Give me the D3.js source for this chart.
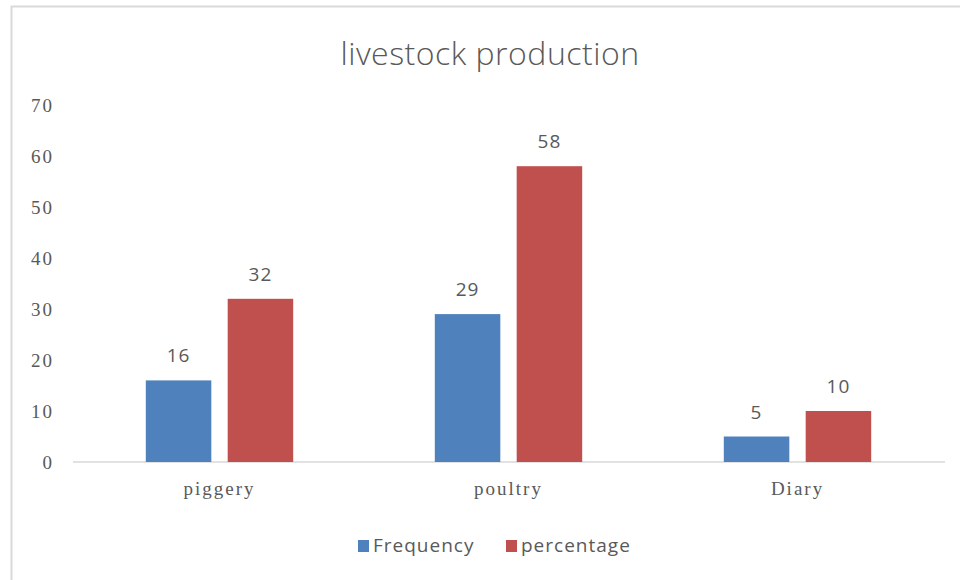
<!DOCTYPE html>
<html>
<head>
<meta charset="utf-8">
<script src="https://cdn.jsdelivr.net/npm/d3@7"></script>
<style>
  html, body { margin: 0; padding: 0; background: #ffffff; }
  svg { display: block; }
</style>
</head>
<body>
<svg id="chart" width="960" height="580"></svg>
<script>
// Livestock production: frequency and percentage per category
const categories = ["piggery", "poultry", "Diary"];
const seriesNames = ["Frequency", "percentage"];
const frequency = [16, 29, 5];
const percentage = [32, 58, 10];
const yTicks = [0, 10, 20, 30, 40, 50, 60, 70];
const title = "livestock production";

const colors = ["#4f81bd", "#c0504d"];
const textColor = "#595959";
const sansFont = "'Open Sans', 'Noto Sans', sans-serif";
const serifFont = "'Liberation Serif', 'DejaVu Serif', serif";

const svg = d3.select("#chart");

// outer frame
svg.append("rect")
  .attr("x", 11.5).attr("y", 6.5)
  .attr("width", 980).attr("height", 600)
  .attr("fill", "#ffffff")
  .attr("stroke", "#d9d9d9")
  .attr("stroke-width", 2);

const x0 = d3.scaleBand()
  .domain(categories)
  .range([75, 942])
  .paddingInner(0.49)
  .paddingOuter(0.245);

const x1 = d3.scaleBand()
  .domain(seriesNames)
  .range([0, x0.bandwidth()])
  .paddingInner(0.2)
  .paddingOuter(0);

const y = d3.scaleLinear().domain([0, 70]).range([462, 105]);

// title
svg.append("text")
  .attr("x", 490).attr("y", 65)
  .attr("text-anchor", "middle")
  .attr("font-family", sansFont)
  .attr("font-weight", 300)
  .attr("font-size", 32)
  .attr("letter-spacing", 0.5)
  .attr("fill", textColor)
  .text(title);

// y axis labels
const yAxis = d3.axisLeft(y).tickValues(yTicks).tickSize(0).tickPadding(0);
const gy = svg.append("g").attr("transform", "translate(54,0)").call(yAxis);
gy.select(".domain").remove();
gy.selectAll("text")
  .attr("font-family", serifFont)
  .attr("font-size", 19)
  .attr("letter-spacing", 2)
  .attr("fill", textColor);

// x axis baseline and category labels
const xAxis = d3.axisBottom(x0).tickSize(0).tickPadding(0);
const gx = svg.append("g").attr("transform", "translate(0,462)").call(xAxis);
gx.select(".domain").attr("d", "M73,0H945").attr("stroke", "#d9d9d9").attr("stroke-width", 1.5);
gx.selectAll("text")
  .attr("dy", "1.75em")
  .attr("font-family", serifFont)
  .attr("font-size", 19)
  .attr("letter-spacing", 2)
  .attr("fill", textColor);

// bars
const rows = categories.map((c, i) => ({
  category: c,
  values: [
    { name: seriesNames[0], value: frequency[i], color: colors[0] },
    { name: seriesNames[1], value: percentage[i], color: colors[1] }
  ]
}));

const groups = svg.append("g").selectAll("g")
  .data(rows).join("g")
  .attr("transform", d => `translate(${x0(d.category)},0)`);

groups.selectAll("rect")
  .data(d => d.values).join("rect")
  .attr("x", d => x1(d.name))
  .attr("y", d => y(d.value))
  .attr("width", x1.bandwidth())
  .attr("height", d => y(0) - y(d.value))
  .attr("fill", d => d.color);

groups.selectAll("text")
  .data(d => d.values).join("text")
  .attr("x", d => x1(d.name) + x1.bandwidth() / 2)
  .attr("y", d => y(d.value) - 18)
  .attr("text-anchor", "middle")
  .attr("font-family", sansFont)
  .attr("font-size", 19)
  .attr("letter-spacing", 1)
  .attr("fill", textColor)
  .text(d => d.value);

// legend
const legendItems = [
  { name: seriesNames[0], color: colors[0], x: 358 },
  { name: seriesNames[1], color: colors[1], x: 506 }
];
const lg = svg.append("g").selectAll("g")
  .data(legendItems).join("g")
  .attr("transform", d => `translate(${d.x},540)`);
lg.append("rect")
  .attr("width", 11).attr("height", 12)
  .attr("fill", d => d.color);
lg.append("text")
  .attr("x", 15).attr("y", 12)
  .attr("font-family", sansFont)
  .attr("font-size", 19)
  .attr("letter-spacing", 1)
  .attr("fill", textColor)
  .text(d => d.name);
</script>
</body>
</html>
